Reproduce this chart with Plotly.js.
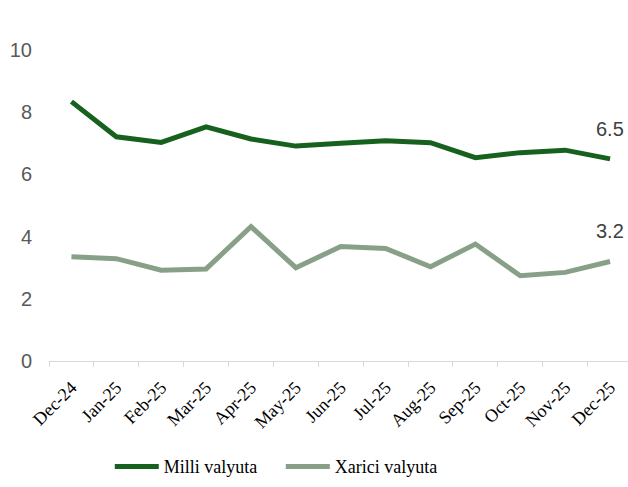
<!DOCTYPE html>
<html>
<head>
<meta charset="utf-8">
<script src="https://cdn.plot.ly/plotly-3.0.1.min.js"></script>
<style>html,body{margin:0;padding:0;background:#fff;}#chart{width:628px;height:487px;}</style>
</head>
<body>
<div id="chart"></div>
<script>
const categories = ["Dec-24","Jan-25","Feb-25","Mar-25","Apr-25","May-25","Jun-25","Jul-25","Aug-25","Sep-25","Oct-25","Nov-25","Dec-25"];
const milliValues = [8.34, 7.21, 7.03, 7.53, 7.14, 6.91, 7.0, 7.08, 7.02, 6.54, 6.70, 6.78, 6.5];
const xariciValues = [3.35, 3.29, 2.92, 2.96, 4.32, 3.0, 3.68, 3.62, 3.03, 3.76, 2.74, 2.85, 3.2];
const seriesNames = ["Milli valyuta", "Xarici valyuta"];
const yTicks = [0, 2, 4, 6, 8, 10];

const SERIF = '"Liberation Serif", "Times New Roman", serif';
const SANS = '"Liberation Sans", Arial, sans-serif';
const last = categories.length - 1;
const traces = [
  {x: categories, y: milliValues, name: seriesNames[0], type: 'scatter', mode: 'lines',
   line: {color: '#17611f', width: 5}},
  {x: categories, y: xariciValues, name: seriesNames[1], type: 'scatter', mode: 'lines',
   line: {color: '#87a087', width: 5}}
];
const layout = {
  width: 628, height: 487,
  margin: {l: 49, r: 0, t: 50, b: 126},
  paper_bgcolor: '#fff', plot_bgcolor: '#fff',
  showlegend: true,
  legend: {orientation: 'h', x: 0.105, xanchor: 'left', y: -0.34, yanchor: 'middle',
           font: {family: SERIF, size: 18, color: '#000'},
           itemwidth: 44, entrywidth: 112, entrywidthmode: 'pixels'},
  xaxis: {type: 'category', range: [-0.5, last + 0.4], tickson: 'boundaries', ticks: 'outside',
          ticklen: 5, tickcolor: '#d9d9d9', showline: true, linecolor: '#d9d9d9', linewidth: 1,
          showgrid: false, tickangle: -45, ticklabelstandoff: 8,
          tickfont: {family: SERIF, size: 18, color: '#000'}},
  yaxis: {range: [0, 10], tickvals: yTicks, showgrid: false, zeroline: false, showline: false,
          ticks: '', ticklabelstandoff: 16,
          tickfont: {family: SANS, size: 20, color: '#595959'}},
  annotations: [
    {x: categories[last], y: milliValues[last], text: String(milliValues[last].toFixed(1)),
     showarrow: false, yshift: 30, font: {family: SANS, size: 20, color: '#404040'}},
    {x: categories[last], y: xariciValues[last], text: String(xariciValues[last].toFixed(1)),
     showarrow: false, yshift: 30, font: {family: SANS, size: 20, color: '#404040'}}
  ]
};
Plotly.newPlot('chart', traces, layout, {displayModeBar: false, staticPlot: true});
</script>
</body>
</html>
